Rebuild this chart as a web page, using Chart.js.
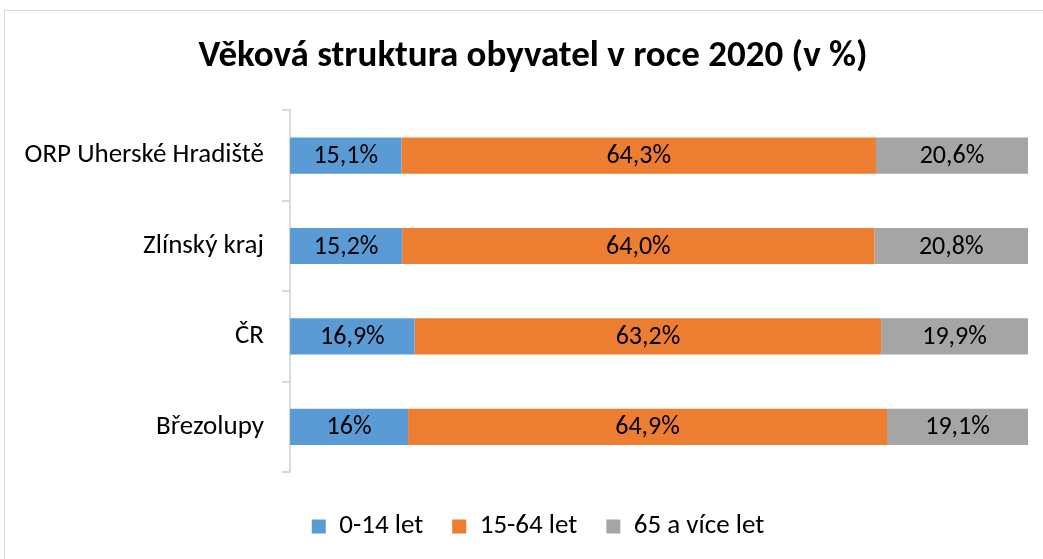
<!DOCTYPE html>
<html lang="cs">
<head>
  <meta charset="UTF-8">
  <title>Věková struktura obyvatel v roce 2020</title>
  <script src="https://cdn.jsdelivr.net/npm/chart.js"></script>
  <style>
    body {
      margin: 0;
      background: #fff;
    }
    #frame {
      position: absolute;
      left: 4px;
      top: 10px;
      width: 1060px;
      height: 570px;
      border: 1px solid #d9d9d9;
    }
    #wrap {
      position: absolute;
      left: 0;
      top: 0;
      width: 1043px;
      height: 559px;
    }
  </style>
</head>
<body>
  <div id="frame"></div>
  <div id="wrap">
    <canvas id="ageChart" width="1043" height="559"></canvas>
  </div>

  <script>
    // data
    const regions = ["ORP Uherské Hradiště", "Zlínský kraj", "ČR", "Březolupy"];
    const young = [15.1, 15.2, 16.9, 16.0];
    const working = [64.3, 64.0, 63.2, 64.9];
    const senior = [20.6, 20.8, 19.9, 19.1];
    const youngLabels = ["15,1%", "15,2%", "16,9%", "16%"];
    const workingLabels = ["64,3%", "64,0%", "63,2%", "64,9%"];
    const seniorLabels = ["20,6%", "20,8%", "19,9%", "19,1%"];

    const fontFamily = "Carlito, Calibri, 'Open Sans', sans-serif";

    // draws the value text in the middle of each bar segment
    const barLabels = {
      id: "barLabels",
      afterDatasetsDraw(chart) {
        const ctx = chart.ctx;
        ctx.save();
        ctx.font = "26px " + fontFamily;
        ctx.fillStyle = "#000";
        ctx.textAlign = "center";
        ctx.textBaseline = "middle";
        chart.data.datasets.forEach((ds, i) => {
          chart.getDatasetMeta(i).data.forEach((bar, j) => {
            const cx = (bar.x + bar.base) / 2;
            ctx.fillText(ds.valueLabels[j], cx, bar.y + 1);
          });
        });
        ctx.restore();
      }
    };

    // nudge title and legend a bit right, like in the original
    const shiftBoxes = {
      id: "shiftBoxes",
      afterLayout(chart) {
        if (chart.titleBlock) chart.titleBlock.left += 38;
        if (chart.legend) chart.legend.left += 48;
      }
    };

    new Chart(document.getElementById("ageChart"), {
      type: "bar",
      data: {
        labels: regions,
        datasets: [
          { label: "0-14 let", data: young, valueLabels: youngLabels, backgroundColor: "#5b9bd5" },
          { label: "15-64 let", data: working, valueLabels: workingLabels, backgroundColor: "#ed7d31" },
          { label: "65 a více let", data: senior, valueLabels: seniorLabels, backgroundColor: "#a5a5a5" }
        ]
      },
      plugins: [barLabels, shiftBoxes],
      options: {
        indexAxis: "y",
        responsive: false,
        animation: false,
        categoryPercentage: 1,
        barPercentage: 0.4,
        layout: { padding: { left: 0, right: 15, top: 0, bottom: 9 } },
        scales: {
          x: {
            stacked: true,
            min: 0,
            max: 100,
            grid: { display: false },
            border: { display: false },
            ticks: { display: false },
            afterFit(scale) { scale.height = 12; }
          },
          y: {
            stacked: true,
            grid: {
              display: true,
              drawOnChartArea: false,
              drawTicks: true,
              tickLength: 8,
              color: "#d9d9d9",
              lineWidth: 2
            },
            border: { display: true, color: "#d9d9d9", width: 2 },
            ticks: {
              color: "#000",
              padding: 18,
              font: { family: fontFamily, size: 27 }
            },
            afterFit(scale) { scale.width = 290; }
          }
        },
        plugins: {
          title: {
            display: true,
            text: "Věková struktura obyvatel v roce 2020 (v %)",
            color: "#000",
            font: { family: fontFamily, size: 37, weight: "bold" },
            padding: { top: 35, bottom: 31 }
          },
          legend: {
            position: "bottom",
            labels: {
              color: "#000",
              boxWidth: 14,
              boxHeight: 14,
              padding: 29,
              font: { family: fontFamily, size: 27 }
            }
          },
          tooltip: { enabled: false }
        }
      }
    });
  </script>
</body>
</html>
